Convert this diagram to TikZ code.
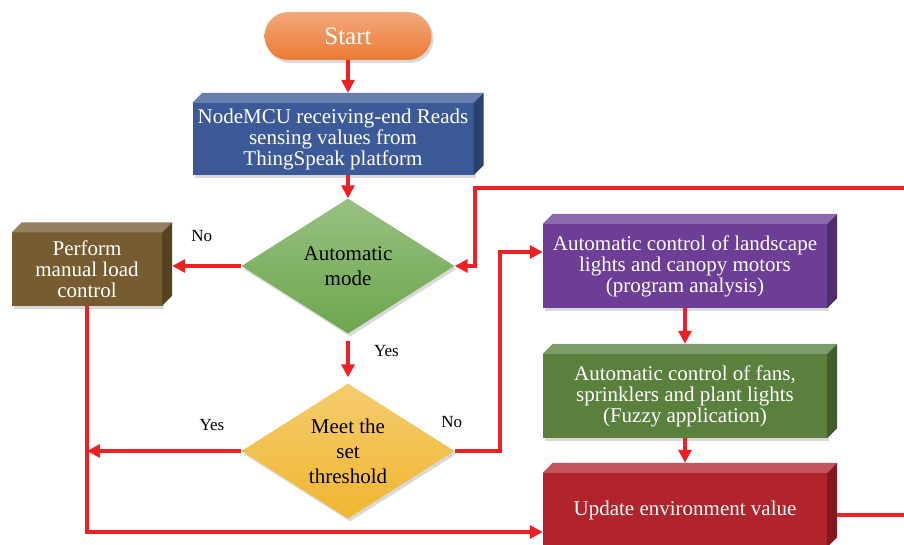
\documentclass[tikz,border=0pt]{standalone}
\usepackage{fontspec}
\setmainfont{Liberation Serif}
\usetikzlibrary{positioning,shapes.geometric,arrows.meta,shadows}

\definecolor{flowred}{RGB}{237,33,36}
\definecolor{startc}{RGB}{236,122,52}
\definecolor{readc}{RGB}{60,90,152}
\definecolor{manualc}{RGB}{118,92,48}
\definecolor{autoc}{RGB}{108,166,76}
\definecolor{thrc}{RGB}{240,182,48}
\definecolor{ctrlAc}{RGB}{108,62,150}
\definecolor{ctrlBc}{RGB}{90,128,62}
\definecolor{updc}{RGB}{178,36,44}

\begin{document}
\begin{tikzpicture}[x=1pt,y=1pt,on grid,
		boxtext/.style={font=\fontsize{21}{21}\selectfont,text=white,align=center},
		proc/.style={rectangle,fill=#1,boxtext,inner sep=2pt,
			drop shadow={shadow xshift=2pt,shadow yshift=-3pt,opacity=.3}},
		term/.style={rectangle,rounded corners=24pt,top color=startc!65!white,bottom color=startc,
			minimum width=167pt,minimum height=48pt,text=white,font=\fontsize{25}{25}\selectfont,
			drop shadow={shadow xshift=2pt,shadow yshift=-3pt,opacity=.3}},
		decide/.style={diamond,aspect=1.6,top color=#1!70!white,bottom color=#1,
			font=\fontsize{21}{25}\selectfont,align=center,inner sep=0pt,
			minimum width=213pt,minimum height=135pt,
			drop shadow={shadow xshift=2pt,shadow yshift=-3pt,opacity=.3}},
		flow/.style={draw=flowred,line width=4pt,-{Triangle[length=13pt,width=13pt]}},
		lbl/.style={font=\fontsize{17}{17}\selectfont,inner sep=0pt}]
	\useasboundingbox (0,0) rectangle (904,-545);
	\clip (0,0) rectangle (904,-545);
	\node[term] (start) at (348,-36) {Start};
	\node[proc=readc,minimum width=281pt,minimum height=72pt] (read) [below=103pt of start,xshift=-15pt] {NodeMCU receiving-end Reads\\sensing values from\\ThingSpeak platform};
	\node[decide=autoc] (auto) [below=230pt of start] {Automatic\\mode};
	\node[decide=thrc] (thr) [below=185pt of auto] {Meet the\\set\\threshold};
	\node[proc=manualc,minimum width=150pt,minimum height=73pt] (manual) [left=261pt of auto,yshift=-3pt] {Perform\\manual load\\control};
	\node[proc=ctrlAc,minimum width=284pt,minimum height=84pt] (ctrlA) [right=337pt of auto] {Automatic control of landscape\\lights and canopy motors\\(program analysis)};
	\node[proc=ctrlBc,minimum width=284pt,minimum height=84pt] (ctrlB) [below=130pt of ctrlA] {Automatic control of fans,\\sprinklers and plant lights\\(Fuzzy application)};
	\node[proc=updc,minimum width=284pt,minimum height=74pt] (upd) [below=114pt of ctrlB] {Update environment value};
	\coordinate (loopR) at (930,-188);
	% top and side faces of the boxes
	\foreach \n/\c in {read/readc,manual/manualc,ctrlA/ctrlAc,ctrlB/ctrlBc,upd/updc}{
		\fill[\c!78!white] (\n.north west) -- ++(10,10) -- ([shift={(10,10)}]\n.north east) -- (\n.north east) -- cycle;
		\fill[\c!72!black] (\n.north east) -- ++(10,10) -- ([shift={(10,10)}]\n.south east) -- (\n.south east) -- cycle;
	}
	\path[every edge/.append style=flow]
		(start.south) edge[shorten >=10pt] (start |- read.north)
		(start |- read.south) edge (auto.north)
		(auto.west) edge[shorten >=10pt] node[lbl,midway,above=22pt] {No} (auto.west -| manual.east)
		(auto.south) edge[shorten <=7pt,shorten >=6pt] node[lbl,pos=0.35,right=24pt] {Yes} (thr.north)
		(thr.west) edge node[lbl,pos=0.19,above=18pt] {Yes} (thr.west -| manual.south)
		(ctrlA.south) edge[shorten >=10pt] (ctrlB.north)
		(ctrlB.south) edge[shorten >=10pt] (upd.north);
	\draw[flow] (thr.east) -- node[lbl,pos=0,above=21pt,xshift=-3pt] {No} ++(45,0) |- ([yshift=14pt]ctrlA.west);
	\draw[flow] (manual.south) |- ([yshift=-22pt]upd.west);
	\draw[flow] ([shift={(10,-5)}]upd.east) -| (loopR) -| ([xshift=20pt]auto.east) -- (auto.east);
\end{tikzpicture}
\end{document}
